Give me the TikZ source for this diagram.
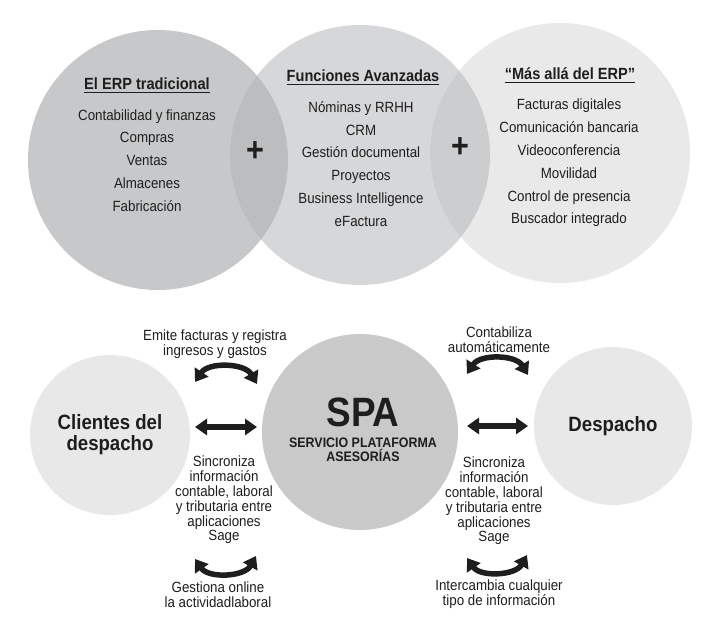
\documentclass[tikz,border=0pt]{standalone}
\usepackage{fontspec}
\setmainfont{Liberation Sans}[FakeStretch=0.9]
\usepackage{tikz}
\usetikzlibrary{arrows.meta}
\definecolor{erpgray}{HTML}{C7C8CA}
\definecolor{avzgray}{HTML}{D6D7D9}
\definecolor{masgray}{HTML}{E9E9E9}
\definecolor{lensa}{HTML}{BCBDBF}
\definecolor{lensb}{HTML}{CCCDCF}
\definecolor{spagray}{HTML}{C9C9C9}
\definecolor{sidegray}{HTML}{E8E8E8}
\definecolor{ink}{HTML}{1E1E1E}

\begin{document}
\begin{tikzpicture}[x=1pt, y=-1pt, every node/.style={text=ink, inner sep=0pt},
	blob/.style={circle, minimum size=#1},
	items/.style={align=center, font=\fontsize{14.8}{22.8}\selectfont},
	heading/.style={font=\fontsize{16.2}{18}\selectfont\bfseries},
	note/.style={align=center, font=\fontsize{14.8}{14.8}\selectfont},
	plussign/.style={font=\fontsize{34}{34}\selectfont\bfseries},
	twoway/.style={draw=ink, line width=5.5pt, {Triangle[length=12pt,width=16pt]}-{Triangle[length=12pt,width=16pt]}}]
	\fill[white] (0,0) rectangle (724,617);
	\useasboundingbox (0,0) rectangle (724,617);
	% ERP circles
	\node[blob=260pt, fill=erpgray] (erp) at (158,160) {};
	\node[blob=260pt, fill=avzgray] (avz) at (360,155) {};
	\node[blob=260pt, fill=masgray] (mas) at (560,153) {};
	\begin{scope}
		\clip (erp.center) circle (130pt);
		\fill[lensa] (avz.center) circle (130pt);
	\end{scope}
	\begin{scope}
		\clip (avz.center) circle (130pt);
		\fill[lensb] (mas.center) circle (130pt);
	\end{scope}
	\node[heading] (terp) at (147,84) {El ERP tradicional};
	\node[heading] (tavz) at (363,76) {Funciones Avanzadas};
	\node[heading] (tmas) at (570,74) {“Más allá del ERP”};
	\foreach \t in {terp,tavz,tmas}
		\draw[ink, line width=1.2pt] ([yshift=-3pt]\t.base west) -- ([yshift=-3pt]\t.base east);
	\node[items] (lerp) at (147,160.5) {Contabilidad y finanzas\\Compras\\Ventas\\Almacenes\\Fabricación};
	\node[items] (lavz) at (361,164) {Nóminas y RRHH\\CRM\\Gestión documental\\Proyectos\\Business Intelligence\\eFactura};
	\node[items] (lmas) at (569,163) {Facturas digitales\\Comunicación bancaria\\Videoconferencia\\Movilidad\\Control de presencia\\Buscador integrado};
	\node[plussign] (plusa) at (255,152) {+};
	\node[plussign] (plusb) at (460,148) {+};
	
	% SPA
	\node[blob=160pt, fill=sidegray, align=center, font=\fontsize{20.7}{21}\selectfont\bfseries] (cli) at (110,435) {Clientes del\\despacho};
	\node[blob=196pt, fill=spagray] (spa) at (360,432) {};
	\node[blob=158pt, fill=sidegray, font=\fontsize{20.7}{21}\selectfont\bfseries] (desp) at (613,426) {Despacho};
	\node[font=\fontsize{41}{41}\selectfont\bfseries] (spat) at (363,412) {SPA};
	\node[align=center, font=\fontsize{13.8}{14.5}\selectfont\bfseries] (spas) at (363,450) {SERVICIO PLATAFORMA\\ASESORÍAS};
	\node[note] (emite) at (215,344.5) {Emite facturas y registra\\ingresos y gastos};
	\node[note] (sincl) at (224,500) {Sincroniza\\información\\contable, laboral\\y tributaria entre\\aplicaciones\\Sage};
	\node[note] (gest) at (218,594.5) {Gestiona online\\la actividadlaboral};
	\node[note] (contab) at (499,340) {Contabiliza\\automáticamente};
	\node[note] (sincr) at (494,501) {Sincroniza\\información\\contable, laboral\\y tributaria entre\\aplicaciones\\Sage};
	\node[note] (inter) at (499,594.5) {Intercambia cualquier\\tipo de información};
	\foreach \n/\x/\y in {la/195/382, lb/257/384, ma/195/427, mb/257/427, na/195/559, nb/256/556,
		ra/467/374, rb/528/375, sa/467/426, sb/528/426, ta/467/558, tb/527/555}
		\coordinate (\n) at (\x,\y);
	\draw[twoway] (la) to[bend left=58] (lb);
	\draw[twoway] (ma) -- (mb);
	\draw[twoway] (na) to[bend right=58] (nb);
	\draw[twoway] (ra) to[bend left=58] (rb);
	\draw[twoway] (sa) -- (sb);
	\draw[twoway] (ta) to[bend right=58] (tb);
	
\end{tikzpicture}
\end{document}
